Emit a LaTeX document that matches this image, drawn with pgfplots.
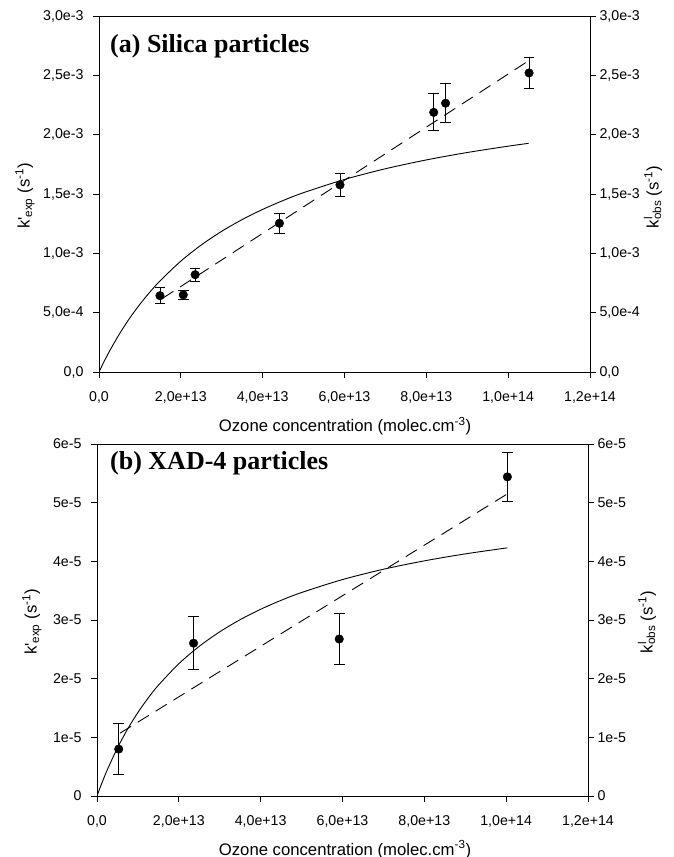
\documentclass[border=0pt]{standalone}
\usepackage{fontspec}
\setmainfont{Liberation Sans}
\newfontfamily\tnr{Liberation Serif}
\usepackage{pgfplots}
\pgfplotsset{compat=1.18}

\pgfplotsset{
  base/.style={
    scale only axis, width=491bp, anchor=south west,
    xmin=0, xmax=1.2e14,
    tick align=outside, major tick length=6bp,
    axis line style={line width=0.9bp},
    every tick/.style={black, line width=0.9bp},
    ticklabel style={font=\fontsize{14.2bp}{17bp}\selectfont},
    xticklabel style={yshift=-10bp},
    scaled ticks=false,
    xtick={0,2e13,4e13,6e13,8e13,1e14,1.2e14},
    xticklabels={{0,0},{2,0e+13},{4,0e+13},{6,0e+13},{8,0e+13},{1,0e+14},{1,2e+14}},
  },
  leftax/.style={base, xtick pos=left, ytick pos=left, yticklabel style={xshift=-6bp}},
  rightax/.style={base, axis x line=none, axis y line*=right, ytick pos=right},
  fitline/.style={black, line width=0.9bp, no markers, smooth},
  dashline/.style={black, line width=0.9bp, no markers, dash pattern=on 13bp off 8bp},
  pts/.style={only marks, mark=*, mark size=4.3bp, black,
    mark options={fill=black, draw=black},
    error bars/.cd, y dir=both, y explicit,
    error bar style={line width=0.9bp, black},
    error mark options={line width=0.9bp, black, mark size=5.3bp, rotate=90}},
}

\begin{document}
\begin{tikzpicture}
\path[use as bounding box] (0bp,0bp) rectangle (674bp,857bp);

% ---------- Panel (a) ----------
\begin{axis}[leftax, at={(99bp,485bp)}, height=356bp,
  ymin=0, ymax=3e-3,
  ytick={0,5e-4,1e-3,1.5e-3,2e-3,2.5e-3,3e-3},
  yticklabels={{0,0},{5,0e-4},{1,0e-3},{1,5e-3},{2,0e-3},{2,5e-3},{3,0e-3}},
  clip=true]
\addplot[fitline] coordinates {
(0,0) (1e12,7.14e-5) (2.5e12,1.713e-4) (5e12,3.211e-4) (7.5e12,4.534e-4)
(1e13,5.709e-4) (1.25e13,6.761e-4) (1.5e13,7.707e-4) (2e13,9.342e-4)
(2.5e13,1.0704e-3) (3e13,1.1857e-3) (3.5e13,1.2845e-3) (4e13,1.3701e-3)
(4.5e13,1.4451e-3) (5e13,1.5112e-3) (6e13,1.6225e-3) (7e13,1.7127e-3)
(8e13,1.7871e-3) (9e13,1.8497e-3) (1e14,1.9030e-3) (1.05e14,1.9268e-3)};
\addplot[dashline] coordinates {(1.55e13,6.2e-4) (1.051e14,2.625e-3)};
\addplot[pts] coordinates {
(1.49e13,6.43e-4) +- (0,6.6e-5)
(2.06e13,6.50e-4) +- (0,4.0e-5)
(2.35e13,8.20e-4) +- (0,5.6e-5)
(4.41e13,1.253e-3) +- (0,8.7e-5)
(5.89e13,1.577e-3) +- (0,9.5e-5)
(8.18e13,2.188e-3) +- (0,1.56e-4)
(8.47e13,2.265e-3) +- (0,1.64e-4)
(1.051e14,2.52e-3) +- (0,1.32e-4)};
\end{axis}
\begin{axis}[rightax, at={(99bp,485bp)}, height=356bp,
  ymin=0, ymax=3e-3,
  ytick={0,5e-4,1e-3,1.5e-3,2e-3,2.5e-3,3e-3},
  yticklabels={{0,0},{5,0e-4},{1,0e-3},{1,5e-3},{2,0e-3},{2,5e-3},{3,0e-3}}]
\addplot[draw=none] coordinates {(0,0)};
\end{axis}

% ---------- Panel (b) ----------
\begin{axis}[leftax, at={(97bp,61bp)}, height=352bp,
  ymin=0, ymax=6e-5,
  ytick={0,1e-5,2e-5,3e-5,4e-5,5e-5,6e-5},
  yticklabels={0,1e-5,2e-5,3e-5,4e-5,5e-5,6e-5},
  clip=true]
\addplot[fitline] coordinates {
(0,0) (1e12,1.866e-6) (2.5e12,4.435e-6) (5e12,8.198e-6) (7.5e12,1.1432e-5)
(1e13,1.4239e-5) (1.25e13,1.6701e-5) (1.5e13,1.8876e-5) (2e13,2.2546e-5)
(2.5e13,2.5524e-5) (3e13,2.7988e-5) (3.5e13,3.0061e-5) (4e13,3.1829e-5)
(4.5e13,3.3356e-5) (5e13,3.4686e-5) (6e13,3.6893e-5) (7e13,3.8650e-5)
(8e13,4.0081e-5) (9e13,4.1270e-5) (1.003e14,4.2301e-5)};
\addplot[dashline] coordinates {(5.6e12,1.07e-5) (1.003e14,5.15e-5)};
\addplot[pts] coordinates {
(5.3e12,8.0e-6) +- (0,4.35e-6)
(2.36e13,2.605e-5) +- (0,4.5e-6)
(5.92e13,2.676e-5) +- (0,4.4e-6)
(1.003e14,5.44e-5) +- (0,4.2e-6)};
\end{axis}
\begin{axis}[rightax, at={(97bp,61bp)}, height=352bp,
  ymin=0, ymax=6e-5,
  ytick={0,1e-5,2e-5,3e-5,4e-5,5e-5,6e-5},
  yticklabels={0,1e-5,2e-5,3e-5,4e-5,5e-5,6e-5}]
\addplot[draw=none] coordinates {(0,0)};
\end{axis}

% ---------- Labels ----------
\begin{scope}[every node/.style={font=\fontsize{16.7bp}{20bp}\selectfont, inner sep=0pt}]
\node[rotate=90] at (25bp,661bp) {k\textquotesingle\textsubscript{exp} (s\textsuperscript{-1})};
\node[rotate=90] at (653bp,660bp) {k\rlap{\textsuperscript{l}}\textsubscript{obs} (s\textsuperscript{-1})};
\node[rotate=90] at (32bp,235bp) {k\textquotesingle\textsubscript{exp} (s\textsuperscript{-1})};
\node[rotate=90] at (647bp,235bp) {k\rlap{\textsuperscript{l}}\textsubscript{obs} (s\textsuperscript{-1})};
\node[anchor=base] at (345bp,425bp) {Ozone concentration (molec.cm\textsuperscript{-3})};
\node[anchor=base] at (345bp,2bp) {Ozone concentration (molec.cm\textsuperscript{-3})};
\end{scope}
\node[anchor=base west, inner sep=0pt, font=\tnr\bfseries\fontsize{26bp}{30bp}\selectfont] at (110bp,804bp) {(a) Silica particles};
\node[anchor=base west, inner sep=0pt, font=\tnr\bfseries\fontsize{26bp}{30bp}\selectfont] at (110bp,387bp) {(b) XAD-4 particles};
\end{tikzpicture}
\end{document}
